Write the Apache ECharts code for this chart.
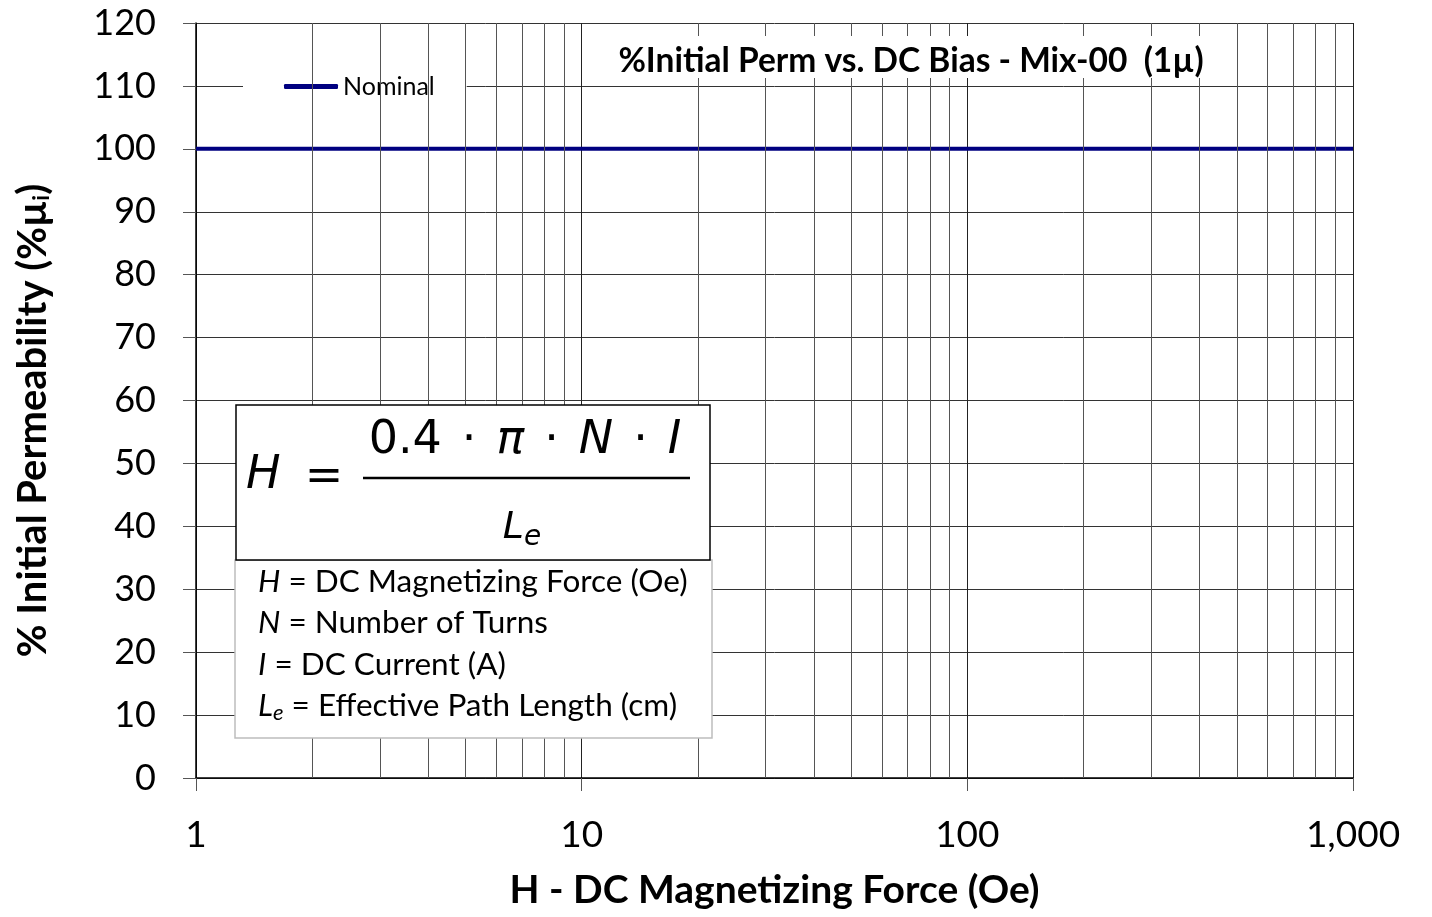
<!DOCTYPE html>
<html>
<head>
<meta charset="utf-8">
<title>%Initial Perm vs. DC Bias - Mix-00</title>
<script src="https://cdn.jsdelivr.net/npm/echarts@6/dist/echarts.min.js"></script>
<style>
  html, body { margin: 0; padding: 0; background: #fff; }
  #chart { width: 1432px; height: 917px; }
</style>
</head>
<body>
<div id="chart"></div>
<script>
// data
const hValues = [1, 1000];          // H - DC Magnetizing Force (Oe)
const nominalPerm = [100, 100];     // % initial permeability
const yTicks = [0, 10, 20, 30, 40, 50, 60, 70, 80, 90, 100, 110, 120];
// minor vertical grid lines of the log axis
const minorH = [2, 3, 4, 5, 6, 7, 8, 9, 20, 30, 40, 50, 60, 70, 80, 90, 200, 300, 400, 500, 600, 700, 800, 900];
// text of the definitions box under the formula
const defLines = [
  '{i|H} = DC Magnetizing Force (Oe)',
  '{i|N} = Number of Turns',
  '{i|I} = DC Current (A)',
  '{i|L}{s|e} = Effective Path Length (cm)'
];

const uiFont = 'Lato, "Open Sans", sans-serif';
const mathFont = '"DejaVu Sans", Verdana, sans-serif';

const chart = echarts.init(document.getElementById('chart'));

// formula box + definitions, drawn on top of the grid
const boxZ = 100;
const boxParts = [
  {
    type: 'rect', z: boxZ,
    shape: { x: 235, y: 560, width: 477, height: 178 },
    style: { fill: '#fff', stroke: '#bdbdbd', lineWidth: 1.5 }
  },
  {
    type: 'rect', z: boxZ,
    shape: { x: 236, y: 405, width: 474, height: 155 },
    style: { fill: '#fff', stroke: '#000', lineWidth: 1.5 }
  },
  {
    type: 'text', z: boxZ + 1,
    x: 246, y: 476,
    style: { text: 'H', font: 'italic 46px ' + mathFont, fill: '#000', verticalAlign: 'middle' }
  },
  {
    type: 'text', z: boxZ + 1,
    x: 324, y: 478,
    style: { text: '=', font: '46px ' + mathFont, fill: '#000', align: 'center', verticalAlign: 'middle' }
  },
  {
    type: 'line', z: boxZ + 1,
    shape: { x1: 363, y1: 478, x2: 690, y2: 478 },
    style: { stroke: '#000', lineWidth: 2.5 }
  },
  {
    type: 'text', z: boxZ + 1,
    x: 525, y: 441,
    style: {
      text: '{u|0.4}{d|\u00b7}{i|\u03c0}{d|\u00b7}{i|N}{d|\u00b7}{i|I}',
      align: 'center', verticalAlign: 'middle',
      rich: {
        u: { font: '46px ' + mathFont, fill: '#000' },
        d: { font: '46px ' + mathFont, fill: '#000', padding: [0, 20, 0, 20] },
        i: { font: 'italic 46px ' + mathFont, fill: '#000' }
      }
    }
  },
  {
    type: 'text', z: boxZ + 1,
    x: 522, y: 528,
    style: {
      text: '{i|L}{s|e}',
      align: 'center', verticalAlign: 'middle',
      rich: {
        i: { font: 'italic 38px ' + mathFont, fill: '#000' },
        s: { font: 'italic 28px ' + mathFont, fill: '#000', padding: [20, 0, 0, 0] }
      }
    }
  }
];
const lineCenters = [582, 623, 665, 706];
defLines.forEach((t, k) => {
  boxParts.push({
    type: 'text', z: boxZ + 1,
    x: 258, y: lineCenters[k],
    style: {
      text: t,
      font: '31.5px ' + uiFont,
      fill: '#000',
      verticalAlign: 'middle',
      rich: {
        i: { font: 'italic 31.5px ' + uiFont, fill: '#000' },
        s: { font: 'italic 22px ' + uiFont, fill: '#000', padding: [14, 0, 0, 0] }
      }
    }
  });
});

const option = {
  animation: false,
  backgroundColor: '#fff',
  textStyle: { fontFamily: uiFont, color: '#000' },
  title: {
    text: '%Initial Perm vs. DC Bias - Mix-00  (1\u00b5)',
    left: 897,
    textAlign: 'center',
    top: 36,
    padding: [8, 14, 0, 14],
    backgroundColor: '#fff',
    textStyle: { fontFamily: uiFont, fontSize: 33.5, fontWeight: 'bold', color: '#000' }
  },
  legend: {
    data: [{ name: 'Nominal', icon: 'roundRect' }],
    left: 243,
    top: 42,
    padding: [32, 32, 32, 41],
    backgroundColor: '#fff',
    itemWidth: 54,
    itemHeight: 5,
    itemGap: 5,
    textStyle: { fontFamily: uiFont, fontSize: 25, color: '#000' }
  },
  grid: { left: 196, right: 79, top: 23, bottom: 139 },
  xAxis: {
    type: 'log',
    logBase: 10,
    min: 1,
    max: 1000,
    splitNumber: 3,
    name: 'H - DC Magnetizing Force (Oe)',
    nameLocation: 'middle',
    nameGap: 93,
    nameTextStyle: { fontFamily: uiFont, fontSize: 39, fontWeight: 'bold', color: '#000' },
    axisLine: { lineStyle: { color: '#000', width: 1.5 } },
    axisTick: { show: true, length: 13, lineStyle: { color: '#555' } },
    axisLabel: {
      margin: 39,
      fontSize: 37,
      color: '#000',
      formatter: v => Number(v).toLocaleString('en-US')
    },
    splitLine: { show: true, lineStyle: { color: '#222', width: 1 } }
  },
  yAxis: {
    type: 'value',
    min: yTicks[0],
    max: yTicks[yTicks.length - 1],
    interval: 10,
    name: '% Initial Permeability (%\u00b5{sub|i})',
    nameLocation: 'middle',
    nameGap: 143,
    nameRotate: 90,
    nameTextStyle: {
      fontFamily: uiFont, fontSize: 40, fontWeight: 'bold', color: '#000',
      padding: [0, 40, 0, 0],
      rich: {
        sub: { fontFamily: uiFont, fontSize: 23, fontWeight: 'bold', verticalAlign: 'bottom', padding: [17, 0, 0, 0] }
      }
    },
    axisLine: { show: true, lineStyle: { color: '#000', width: 1.5 } },
    axisTick: { show: true, length: 13, lineStyle: { color: '#555' } },
    axisLabel: { margin: 40, fontSize: 36, color: '#000' },
    splitLine: { show: true, lineStyle: { color: '#333', width: 1 } }
  },
  series: [
    {
      name: 'grid-minor',
      type: 'line',
      data: [],
      z: 1,
      silent: true,
      markLine: {
        silent: true,
        symbol: 'none',
        label: { show: false },
        lineStyle: { color: '#555', width: 1, type: 'solid' },
        data: minorH.map(h => ({ xAxis: h }))
      }
    },
    {
      name: 'Nominal',
      type: 'line',
      z: 3,
      symbol: 'none',
      lineStyle: { color: '#000080', width: 4 },
      itemStyle: { color: '#000080' },
      data: hValues.map((h, i) => [h, nominalPerm[i]])
    }
  ],
  graphic: boxParts
};

chart.setOption(option);
</script>
</body>
</html>
